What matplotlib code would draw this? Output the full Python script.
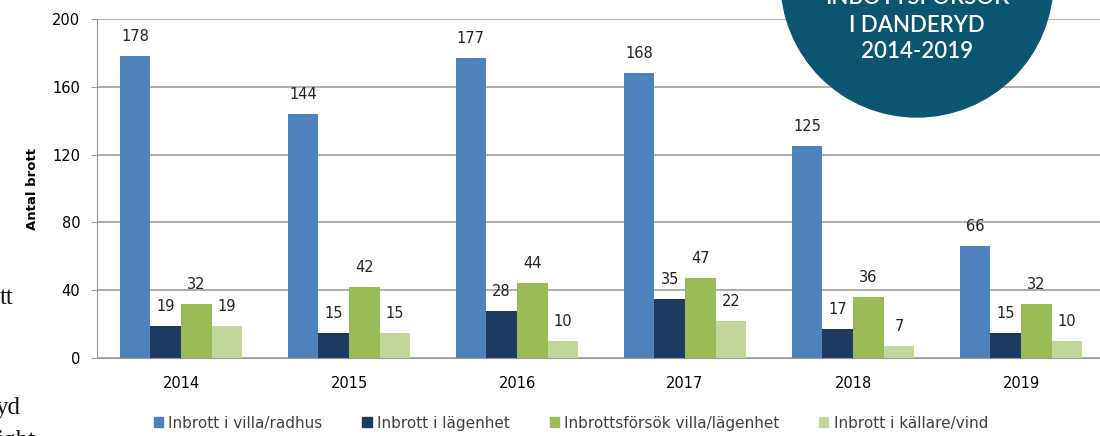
from matplotlib import pyplot as plt
from matplotlib.patches import Ellipse, Patch
import numpy as np

years = ['2014', '2015', '2016', '2017', '2018', '2019']
villa = [178, 144, 177, 168, 125, 66]
lagenhet = [19, 15, 28, 35, 17, 15]
forsok = [32, 42, 44, 47, 36, 32]
kallare = [19, 15, 10, 22, 7, 10]

series_names = ['Inbrott i villa/radhus', 'Inbrott i lägenhet',
                'Inbrottsförsök villa/lägenhet', 'Inbrott i källare/vind']
colors = ['#4f81bd', '#1f3a60', '#9bbb59', '#c3d69b']

W, H = 1100, 436
fig = plt.figure(figsize=(W / 100, H / 100), dpi=100)
ax = fig.add_axes([97 / W, 1 - 358 / H, 1008 / W, 339 / H])

x = np.arange(len(years))
bw = 0.183
for i, (vals, col) in enumerate(zip([villa, lagenhet, forsok, kallare], colors)):
    pos = x + (i - 1.5) * bw
    ax.bar(pos, vals, width=bw, color=col, zorder=3)
    for px, v in zip(pos, vals):
        ax.annotate(str(v), (px, v), xytext=(0, 12), textcoords='offset pixels',
                    ha='center', va='bottom', fontsize=10.5, color='#222222')

ax.set_xlim(-0.5, len(years) - 0.5)
ax.set_ylim(0, 200)
ax.set_yticks(range(0, 201, 40))
ax.yaxis.grid(True, color='#999999', linewidth=1.1, zorder=0)
ax.set_xticks(x)
ax.set_xticklabels(years, fontsize=10.5)
ax.tick_params(axis='x', length=0, pad=13)
ax.tick_params(axis='y', length=4, color='#999999', labelsize=10.5, pad=8)
for s in ['top', 'right']:
    ax.spines[s].set_visible(False)
for s in ['left', 'bottom']:
    ax.spines[s].set_color('#999999')
ax.set_ylabel('Antal brott', fontsize=9.5, fontweight='bold')
ax.yaxis.set_label_coords(-58 / 1008, 0.5)

handles = [Patch(color=c) for c in colors]
fig.legend(handles, series_names, loc='center', bbox_to_anchor=(571 / W, 1 - 423 / H),
           ncol=4, frameon=False, handlelength=0.6, handleheight=0.6,
           handletextpad=0.35, columnspacing=2.6, labelcolor='#404040',
           prop={'family': 'DejaVu Sans', 'size': 11})

# badge
fig.add_artist(Ellipse((917 / W, 1 + 19 / H), 272 / W, 272 / H,
                       transform=fig.transFigure, color='#0b5570', zorder=10))
for txt, yy in [('INBOTTSFÖRSÖK', -2), ('I DANDERYD', 26), ('2014-2019', 52)]:
    fig.text(917 / W, 1 - yy / H, txt, ha='center', va='center', color='white',
             fontsize=16, family='Lato', fontweight='semibold', zorder=11)

# page text fragments on the left
for txt, xx, yy in [('tt', 0, 298), ('yd', -4, 408), ('ight', -4, 441)]:
    fig.text(xx / W, 1 - yy / H, txt, ha='left', va='center', fontsize=18,
             family='Liberation Serif', color='#111111')

fig.savefig('out.png', dpi=100)
